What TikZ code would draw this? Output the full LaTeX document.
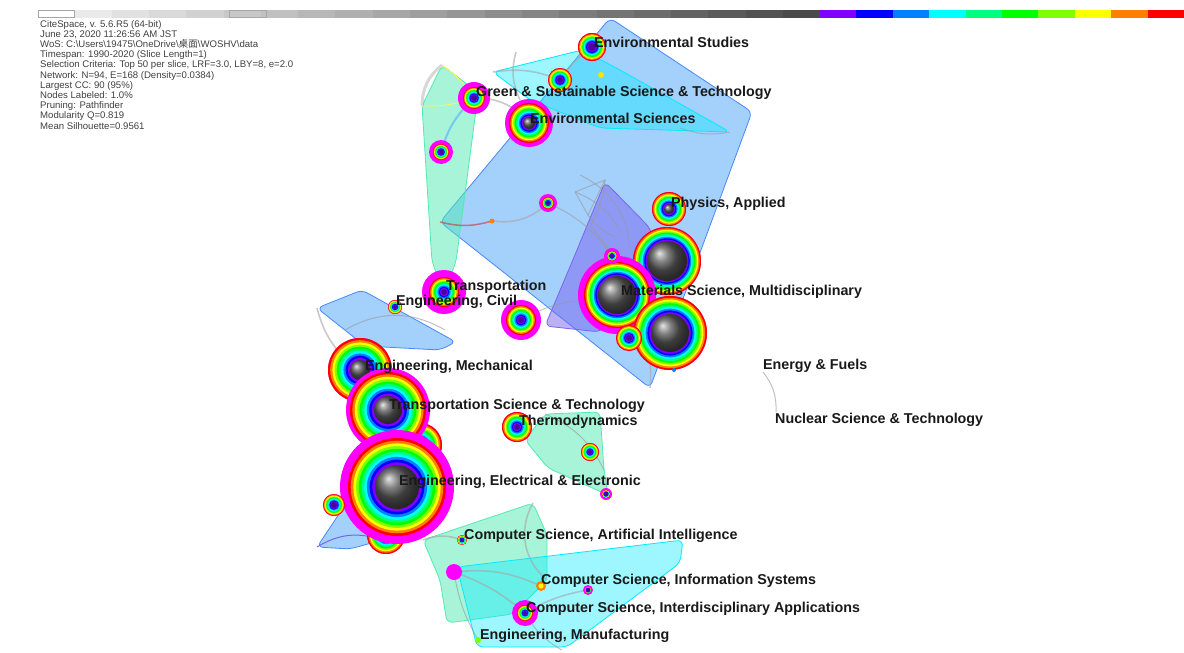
\documentclass[tikz,border=0pt]{standalone}
\usepackage{fontspec}
\setmainfont{Liberation Sans}
\newfontfamily\cjk{Noto Sans CJK SC}
\definecolor{rbA}{RGB}{255,0,0}
\definecolor{rbB}{RGB}{255,128,0}
\definecolor{rbC}{RGB}{255,255,0}
\definecolor{rbD}{RGB}{128,255,0}
\definecolor{rbE}{RGB}{0,255,0}
\definecolor{rbF}{RGB}{0,255,128}
\definecolor{rbG}{RGB}{0,255,255}
\definecolor{rbH}{RGB}{0,128,255}
\definecolor{rbI}{RGB}{0,0,255}
\definecolor{rbJ}{RGB}{128,0,255}
\definecolor{mg}{RGB}{255,0,255}
\definecolor{hullblue}{RGB}{90,170,250}
\definecolor{hullgreen}{RGB}{80,235,180}
\definecolor{hullcyan}{RGB}{0,235,255}
\definecolor{hullviolet}{RGB}{120,100,240}
\newcommand\ringnd[6]{% name, x, y, R, core, magenta width
  \coordinate (#1) at (#2,#3);
  \fill[mg] (#1) circle (#4pt);
  \foreach \c [count=\i from 0] in {rbA,rbB,rbC,rbD,rbE,rbF,rbG,rbH,rbI,rbJ}{
    \pgfmathsetmacro\rr{(#4-#6)-\i*((#4-#6-#5)/10)}
    \fill[\c] (#1) circle (\rr pt);
  }
  \ifdim #5pt>4pt
    \shade[ball color=gray!70!black] (#1) circle (#5pt);
  \else
    \fill[rbJ!60!black] (#1) circle (#5pt);
  \fi
}
\tikzset{
  lab/.style={anchor=west, inner sep=0pt, font=\bfseries\fontsize{14.3}{15}\selectfont, text=black!90},
  hullB/.style={fill=hullblue, fill opacity=0.55, draw=hullblue!80!blue, rounded corners=6pt, line width=0.8pt},
  hullG/.style={fill=hullgreen, fill opacity=0.5, draw=hullgreen, rounded corners=6pt, line width=0.8pt},
  hullC/.style={fill=hullcyan, fill opacity=0.38, draw=hullcyan, rounded corners=6pt, line width=0.8pt},
  hullV/.style={fill=hullviolet, fill opacity=0.5, draw=hullviolet, rounded corners=6pt, line width=0.8pt},
  edge/.style={draw=gray!70, line width=1.6pt, draw opacity=0.6},
  thinedge/.style={draw=gray!80, line width=1pt, draw opacity=0.6}
}
\begin{document}
\begin{tikzpicture}[x=1pt,y=-1pt]
\fill[white] (0,0) rectangle (1184,653);
\useasboundingbox (0,0) rectangle (1184,653);
% colour bar
\foreach \i in {0,...,20}{
  \pgfmathsetmacro\gl{5+\i*3.3}
  \fill[black!\gl!white] ({37+\i*37.3},10) rectangle ({37+(\i+1)*37.3},18);
}
\fill[white] (37,10) rectangle (74,18);
\draw[gray!70, line width=0.6pt] (38.5,10.5) rectangle (74,17.5);
\draw[gray!70, line width=0.6pt] (229.5,10.5) rectangle (266,17.5);
\foreach \c [count=\i from 0] in {rbJ,rbI,rbH,rbG,rbF,rbE,rbD,rbC,rbB,rbA}{
  \fill[\c] ({820+\i*36.4},10) rectangle ({820+(\i+1)*36.4},18);
}
% info text
\node[anchor=north west, inner sep=0pt, align=left, text=black!75, font=\fontsize{9.6}{10.2}\selectfont] (info) at (40,20) {CiteSpace, v. 5.6.R5 (64-bit)\\
June 23, 2020 11:26:56 AM JST\\
WoS: C:\textbackslash Users\textbackslash 19475\textbackslash OneDrive\textbackslash{\cjk 桌面}\textbackslash WOSHV\textbackslash data\\
Timespan: 1990-2020 (Slice Length=1)\\
Selection Criteria: Top 50 per slice, LRF=3.0, LBY=8, e=2.0\\
Network: N=94, E=168 (Density=0.0384)\\
Largest CC: 90 (95\%)\\
Nodes Labeled: 1.0\%\\
Pruning: Pathfinder\\
Modularity Q=0.819\\
Mean Silhouette=0.9561};
% hulls
\path[hullB] (440,222) -- (610,18) -- (752,112) -- (650,388) -- cycle;
\path[hullC] (493,72) -- (582,50) -- (620,70) -- (730,132) -- (600,128) -- (530,100) -- cycle;
\path[hullV] (605,182) -- (650,228) -- (660,265) -- (600,332) -- (545,326) -- (572,262) -- cycle;
\path[hullG] (442,65) -- (472,88) -- (476,110) -- (456,262) -- (444,292) -- (432,262) -- (422,106) -- cycle;
\path[hullB] (317,308) -- (362,290) -- (456,342) -- (440,350) -- (365,346) -- cycle;
\path[hullB] (317,547) -- (345,505) -- (382,540) -- (350,549) -- cycle;
\path[hullG] (525,440) -- (545,414) -- (600,412) -- (604,470) -- (608,495) -- (548,468) -- cycle;
\path[hullG] (423,540) -- (533,503) -- (547,535) -- (547,580) -- (513,614) -- (447,623) -- (440,580) -- cycle;
\path[hullC] (457,567) -- (683,540) -- (680,563) -- (567,647) -- (477,647) -- cycle;
% edges
\coordinate (ef) at (763,372);
\coordinate (ns) at (776,412);
\draw[thinedge] (ef) to[bend left=20] (ns);
\draw[draw=gray!60, line width=3pt, draw opacity=0.5] (422,106) to[bend left=25] (442,65);
\draw[draw=yellow!70, line width=0.8pt] (442,65) to[bend left=10] (474,98);
\draw[draw=yellow!70, line width=0.8pt] (422,106) to[bend right=10] (474,98);
\draw[draw=hullblue, line width=2pt, draw opacity=0.6] (441,152) to[bend left=15] (474,98);
\draw[edge] (474,98) to[bend left=25] (529,123);
\draw[edge] (493,72) to[bend left=15] (560,80);
\draw[edge] (560,80) to[bend left=10] (592,47);
\draw[edge] (516,52) to[bend right=20] (520,100);
\draw[thinedge] (680,128) to[bend right=15] (730,132);
\draw[draw=rbA!60!gray, line width=1.5pt, draw opacity=0.6] (440,222) to[bend right=15] (492,221);
\draw[edge] (492,221) to[bend right=25] (548,203);
\draw[thinedge] (548,203) to[bend left=15] (612,256);
\draw[thinedge] (575,192) -- (605,180) -- (588,215) -- (575,192);
\draw[thinedge] (575,192) to[bend left=20] (621,233);
\draw[thinedge] (588,215) to[bend right=15] (615,237);
\draw[thinedge] (605,180) to[bend left=10] (591,225);
\draw[thinedge] (591,225) to[bend right=20] (652,272);
\draw[thinedge] (580,175) to[bend left=30] (630,250);
\draw[thinedge] (521,320) to[bend left=15] (600,300);
\draw[edge] (317,308) to[bend right=20] (360,370);
\draw[thinedge] (345,330) to[bend left=30] (445,330);
\draw[edge] (650,388) to[bend right=15] (640,330);
\draw[edge] (423,540) to[bend left=20] (462,540);
\draw[edge] (454,572) to[bend left=10] (525,613);
\draw[edge] (454,572) to[bend left=15] (541,586);
\draw[thinedge] (454,572) to[bend right=10] (478,640);
\draw[edge] (525,613) to[bend left=10] (588,590);
\draw[thinedge] (525,613) to[bend right=15] (562,650);
\draw[edge] (533,503) to[bend right=40] (547,580);
\draw[thinedge] (545,414) to[bend left=20] (604,470);
\draw[draw=hullviolet, line width=1pt] (317,547) to[bend left=25] (382,540);
% nodes
\ringnd{es}{592}{47}{14}{4}{0}
\ringnd{n1}{560}{80}{12}{3}{0}
\fill[rbC!80!rbB] (601,75) circle (3pt);
\ringnd{gs}{474}{98}{16}{3}{5}
\ringnd{env}{529}{123}{24}{6}{4}
\ringnd{n2}{441}{152}{12}{2.5}{4}
\ringnd{n3}{548}{203}{9}{2}{3}
\fill[rbB] (492,221) circle (2.5pt);
\ringnd{pa}{669}{209}{17}{5}{0}
\ringnd{big1}{667}{261}{34}{20}{0}
\ringnd{big2}{617}{295}{39}{19}{6}
\ringnd{n4}{612}{256}{8}{2}{3}
\ringnd{big3}{670}{333}{37}{19}{0}
\ringnd{n5}{629}{338}{13}{3}{0}
\fill[rbH] (674,370) circle (2pt);
\ringnd{tr}{444}{292}{22}{3}{7}
\ringnd{ec}{395}{307}{7}{2}{0}
\ringnd{n6}{521}{320}{20}{3}{5}
\ringnd{em}{360}{370}{32}{10}{0}
\ringnd{n7}{420}{445}{22}{5}{0}
\ringnd{n8}{386}{535}{19}{5}{0}
\ringnd{tst}{388}{410}{42}{14}{4}
\ringnd{eee}{397}{487}{57}{22}{8}
\ringnd{n9}{334}{505}{11}{3}{0}
\ringnd{th}{517}{427}{15}{3}{0}
\ringnd{n10}{590}{452}{9}{2}{0}
\ringnd{n11}{606}{494}{6}{2}{2}
\ringnd{ai}{462}{540}{5}{1.5}{0}
\fill[mg] (454,572) circle (8pt);
\fill[rbB] (541,586) circle (5pt);
\fill[rbC] (541,586) circle (2.5pt);
\ringnd{n12}{588}{590}{5}{2}{2}
\ringnd{ia}{525}{613}{13}{2}{5}
\fill[rbD] (478,640) circle (3pt);
% labels
\node[lab] (les) at (594,42) {Environmental Studies};
\node[lab] (lgs) at (476,93) {Green \& Sustainable Science \& Technology};
\node[lab] (lenv) at (530,118) {Environmental Sciences};
\node[lab] (lpa) at (671,204) {Physics, Applied};
\node[lab] (ltr) at (446,287) {Transportation};
\node[lab] (lms) at (621,292) {Materials Science, Multidisciplinary};
\node[lab] (lec) at (396,302) {Engineering, Civil};
\node[lab] (lem) at (365,367) {Engineering, Mechanical};
\node[lab] (lef) at (763,366) {Energy \& Fuels};
\node[lab] (ltst) at (389,406) {Transportation Science \& Technology};
\node[lab] (lns) at (775,420) {Nuclear Science \& Technology};
\node[lab] (lth) at (519,422) {Thermodynamics};
\node[lab] (leee) at (399,482) {Engineering, Electrical \& Electronic};
\node[lab] (lai) at (464,536) {Computer Science, Artificial Intelligence};
\node[lab] (lis) at (541,581) {Computer Science, Information Systems};
\node[lab] (lia) at (526,609) {Computer Science, Interdisciplinary Applications};
\node[lab] (lmf) at (480,636) {Engineering, Manufacturing};
\end{tikzpicture}
\end{document}
